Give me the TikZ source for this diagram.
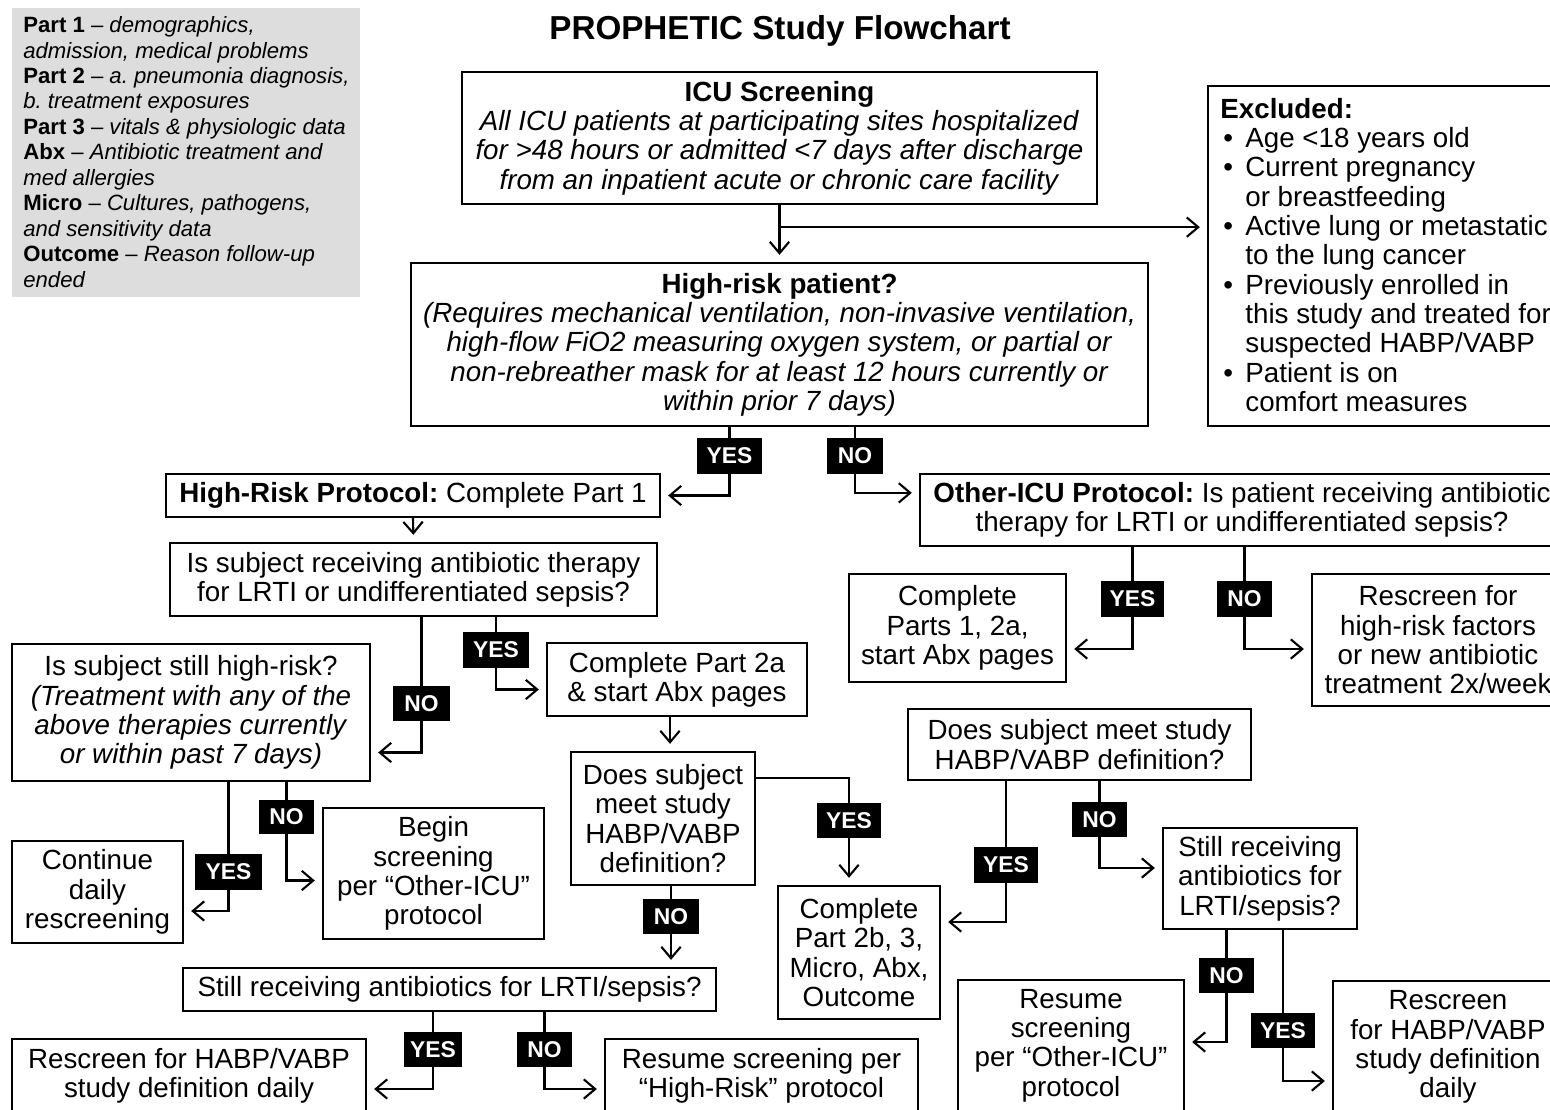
\documentclass[tikz,border=0pt]{standalone}
\usepackage{fontspec}
\setmainfont{Liberation Sans}
\usetikzlibrary{arrows.meta,calc,backgrounds}
\frenchspacing
\newlength\px \setlength\px{0.02cm}
\definecolor{legendgray}{RGB}{221,221,221}
\tikzset{
 box/.style={draw, line width=1.3pt, align=center, inner sep=0pt, font=\fontsize{15.8}{16.7}\selectfont},
 lbl/.style={fill=black, text=white, font=\fontsize{13}{15}\selectfont\bfseries, inner sep=0pt},
 arr/.style={line width=1.2pt, shorten >=4pt, -{Straight Barb[length=6.5pt,width=11pt,line width=1.2pt]}},
}
\newcommand\mybox[7][]{\node[box,minimum width={(#4-#2)*0.02cm},minimum height={(#5-#3)*0.02cm},#1] (#6) at ({(#2+#4)/2},{(#3+#5)/2}) {#7};}
\newcommand\mylbl[6]{\node[lbl,minimum width={#4*0.02cm},minimum height={#5*0.02cm}] (#1) at (#2,#3) {#6};}
\begin{document}
\begin{tikzpicture}[x=0.02cm,y=-0.02cm]
\useasboundingbox (0,0) rectangle (1550,1109);
\clip (0,0) rectangle (1550,1109);
% title
\node[font=\fontsize{18.9}{22}\selectfont\bfseries] (title) at (780,31) {PROPHETIC Study Flowchart};
% legend
\node[fill=legendgray, minimum width={348*0.02cm}, minimum height={289*0.02cm}, inner sep=0pt] (legend) at (186,152.5) {};
\node[anchor=west, align=left, inner sep=0pt, font=\fontsize{12.6}{14.5}\selectfont] (legendtxt) at (23,152) {%
\textbf{Part 1} – \textit{demographics,}\\
\textit{admission, medical problems}\\
\textbf{Part 2} – \textit{a. pneumonia diagnosis,}\\
\textit{b. treatment exposures}\\
\textbf{Part 3} – \textit{vitals \& physiologic data}\\
\textbf{Abx} – \textit{Antibiotic treatment and}\\
\textit{med allergies}\\
\textbf{Micro} – \textit{Cultures, pathogens,}\\
\textit{and sensitivity data}\\
\textbf{Outcome} – \textit{Reason follow-up}\\
\textit{ended}};
% boxes
\mybox{462}{72}{1097}{204}{icu}{\textbf{ICU Screening}\\\textit{All ICU patients at participating sites hospitalized}\\\textit{for >48 hours or admitted <7 days after discharge}\\\textit{from an inpatient acute or chronic care facility}}
\mybox{411}{263}{1148}{426}{hr}{\textbf{High-risk patient?}\\\textit{(Requires mechanical ventilation, non-invasive ventilation,}\\\textit{high-flow FiO2 measuring oxygen system, or partial or}\\\textit{non-rebreather mask for at least 12 hours currently or}\\\textit{within prior 7 days)}}
\mybox{1208}{86}{1560}{426}{excl}{}
\node[anchor=west, align=left, inner sep=0pt, font=\fontsize{15.8}{16.7}\selectfont] (excltxt) at (1220,255) {%
\textbf{Excluded:}\\
\makebox[25\px][l]{\hspace*{3\px}•}Age <18 years old\\
\makebox[25\px][l]{\hspace*{3\px}•}Current pregnancy\\
\hspace*{25\px}or breastfeeding\\
\makebox[25\px][l]{\hspace*{3\px}•}Active lung or metastatic\\
\hspace*{25\px}to the lung cancer\\
\makebox[25\px][l]{\hspace*{3\px}•}Previously enrolled in\\
\hspace*{25\px}this study and treated for\\
\hspace*{25\px}suspected HABP/VABP\\
\makebox[25\px][l]{\hspace*{3\px}•}Patient is on\\
\hspace*{25\px}comfort measures};
\mybox{166}{474}{660}{517}{hrp}{\textbf{High-Risk Protocol:} Complete Part 1}
\mybox{170}{543}{657}{616}{isr}{Is subject receiving antibiotic therapy\\for LRTI or undifferentiated sepsis?}
\mybox{547}{643}{807}{716}{cp2a}{Complete Part 2a\\\& start Abx pages}
\mybox{12}{644}{370}{781}{still}{Is subject still high-risk?\\\textit{(Treatment with any of the}\\\textit{above therapies currently}\\\textit{or within past 7 days)}}
\mybox{12}{841}{183}{943}{cont}{Continue\\daily\\rescreening}
\mybox{323}{808}{544}{939}{begin}{Begin\\screening\\per “Other-ICU”\\protocol}
\mybox{571}{752}{755}{885}{dsm}{Does subject\\meet study\\HABP/VABP\\definition?}
\mybox{778}{886}{940}{1019}{cp2b}{Complete\\Part 2b, 3,\\Micro, Abx,\\Outcome}
\mybox{183}{968}{716}{1011}{stl}{Still receiving antibiotics for LRTI/sepsis?}
\mybox{12}{1039}{366}{1112}{rsl}{Rescreen for HABP/VABP\\study definition daily}
\mybox{605}{1039}{918}{1112}{rhr}{Resume screening per\\“High-Risk” protocol}
\mybox{920}{474}{1564}{546}{oicu}{\textbf{Other-ICU Protocol:} Is patient receiving antibiotic\\therapy for LRTI or undifferentiated sepsis?}
\mybox{849}{574}{1066}{682}{cp1}{Complete\\Parts 1, 2a,\\start Abx pages}
\mybox{1312}{574}{1564}{706}{rsh}{Rescreen for\\high-risk factors\\or new antibiotic\\treatment 2x/week}
\mybox{908}{709}{1251}{780}{dsr}{Does subject meet study\\HABP/VABP definition?}
\mybox{1163}{828}{1357}{929}{str}{Still receiving\\antibiotics for\\LRTI/sepsis?}
\mybox{958}{980}{1184}{1111}{ros}{Resume\\screening\\per “Other-ICU”\\protocol}
\mybox{1333}{981}{1563}{1113}{rsr}{Rescreen\\for HABP/VABP\\study definition\\daily}
% labels
\mylbl{L1}{729.5}{456}{65}{36}{YES}
\mylbl{L2}{855}{456}{56}{36}{NO}
\mylbl{L3}{496}{650}{66}{36}{YES}
\mylbl{L4}{421.5}{703.5}{57}{35}{NO}
\mylbl{L5}{286.5}{817}{55}{34}{NO}
\mylbl{L6}{228.5}{872}{67}{36}{YES}
\mylbl{L7}{849}{820.5}{64}{35}{YES}
\mylbl{L8}{671}{916.5}{56}{35}{NO}
\mylbl{L9}{433}{1049.5}{58}{35}{YES}
\mylbl{L10}{544.5}{1049.5}{55}{35}{NO}
\mylbl{L11}{1132.5}{599}{63}{36}{YES}
\mylbl{L12}{1244.5}{599}{55}{36}{NO}
\mylbl{L13}{1099.5}{819.5}{55}{35}{NO}
\mylbl{L14}{1006}{865}{64}{36}{YES}
\mylbl{L15}{1226.5}{975.5}{55}{35}{NO}
\mylbl{L16}{1283}{1030.5}{64}{35}{YES}
% connectors
\begin{pgfonlayer}{background}
\coordinate (j1) at ($(icu.south)+(0,22)$);
\draw[arr] (icu.south) -- (hr.north);
\draw[arr] (j1) -- (j1 -| excl.west);
\draw[arr] (hr.south -| L1) |- (hrp.east);
\draw[arr] (hr.south -| L2) |- ($(oicu.north west)+(0,20)$);
\draw[arr] (hrp.south) -- (isr.north);
\draw[arr] (isr.south -| L3) |- ($(cp2a.west)+(0,10)$);
\draw[arr] (isr.south -| L4) |- ($(still.east)+(0,40)$);
\draw[arr] ([xshift=-7\px]cp2a.south) -- ([xshift=-7\px]cp2a.south |- dsm.north);
\draw[arr] (still.south -| L5) |- ($(begin.west)+(0,7)$);
\draw[arr] (still.south -| L6) |- ($(cont.east)+(0,19)$);
\draw[arr] ($(dsm.north east)+(0,27)$) -| (L7 |- cp2b.north);
\draw[arr] (dsm.south -| L8) -- (L8 |- stl.north);
\draw[arr] (stl.south -| L9) |- ($(rsl.east)+(0,13.5)$);
\draw[arr] (stl.south -| L10) |- ($(rhr.west)+(0,13.5)$);
\draw[arr] (oicu.south -| L11) |- ($(cp1.east)+(0,21)$);
\draw[arr] (oicu.south -| L12) |- ($(rsh.west)+(0,9)$);
\draw[arr] (dsr.south -| L14) |- ($(cp2b.east)+(0,-30.5)$);
\draw[arr] (dsr.south -| L13) |- ($(str.west)+(0,-10.5)$);
\draw[arr] (str.south -| L15) |- ($(ros.east)+(0,-3.5)$);
\draw[arr] (str.south -| L16) |- ($(rsr.west)+(0,34)$);
\end{pgfonlayer}
\end{tikzpicture}
\end{document}
